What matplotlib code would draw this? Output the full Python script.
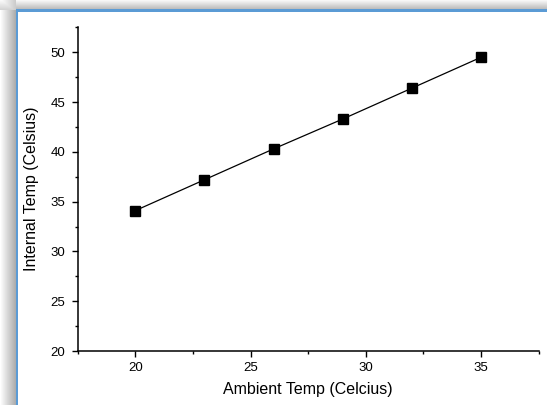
import numpy as np
import matplotlib
matplotlib.use("Agg")
from matplotlib import pyplot as plt
from matplotlib.ticker import MultipleLocator

ambient = [20, 23, 26, 29, 32, 35]
internal = [34.1, 37.2, 40.3, 43.3, 46.4, 49.5]
x_ticks = [20, 25, 30, 35]
y_ticks = [20, 25, 30, 35, 40, 45, 50]

plt.rcParams['font.family'] = ['Liberation Sans', 'DejaVu Sans']

W, H = 547, 405
fig = plt.figure(figsize=(W / 100, H / 100), dpi=100)

# window frame: grey shadow on top/left with a blue border
bg = np.ones((H, W, 3))
for y in range(10):
    bg[y, :, :] = 0.97 - 0.25 * y / 9
for x in range(16):
    bg[10:, x, :] = 1.0 - 0.32 * x / 15
for y in range(10):
    for x in range(16):
        bg[y, x, :] = min(0.98 - 0.15 * y / 9, 1.0 - 0.2 * x / 15)
blue = np.array([91, 155, 213]) / 255
bg[9:12, 16:, :] = blue
bg[9:, 16:18, :] = blue

frame = fig.add_axes([0, 0, 1, 1], zorder=0)
frame.imshow(bg, aspect='auto', interpolation='nearest')
frame.axis('off')

ax = fig.add_axes([77.7 / W, 54 / H, 461 / W, 323.6 / H], zorder=1)
ax.patch.set_alpha(0)
ax.plot(ambient, internal, color='black', linewidth=0.9,
        marker='s', markersize=7.3, markerfacecolor='black', markeredgecolor='black')

ax.set_xlim(17.5, 37.5)
ax.set_ylim(20, 52.5)
ax.set_xticks(x_ticks)
ax.set_yticks(y_ticks)
ax.xaxis.set_minor_locator(MultipleLocator(2.5))
ax.yaxis.set_minor_locator(MultipleLocator(2.5))
ax.tick_params(which='major', direction='out', length=4, width=1, labelsize=9.5)
ax.tick_params(axis='x', which='major', pad=4)
ax.tick_params(axis='y', which='major', pad=5)
ax.tick_params(which='minor', direction='out', length=2.5, width=1)
for side in ['top', 'right']:
    ax.spines[side].set_visible(False)
for side in ['left', 'bottom']:
    ax.spines[side].set_linewidth(1.1)

ax.set_xlabel('Ambient Temp (Celcius)', fontsize=11.5, labelpad=6)
ax.set_ylabel('Internal Temp (Celsius)', fontsize=11.5, labelpad=8)

fig.savefig('out.png', dpi=100)
